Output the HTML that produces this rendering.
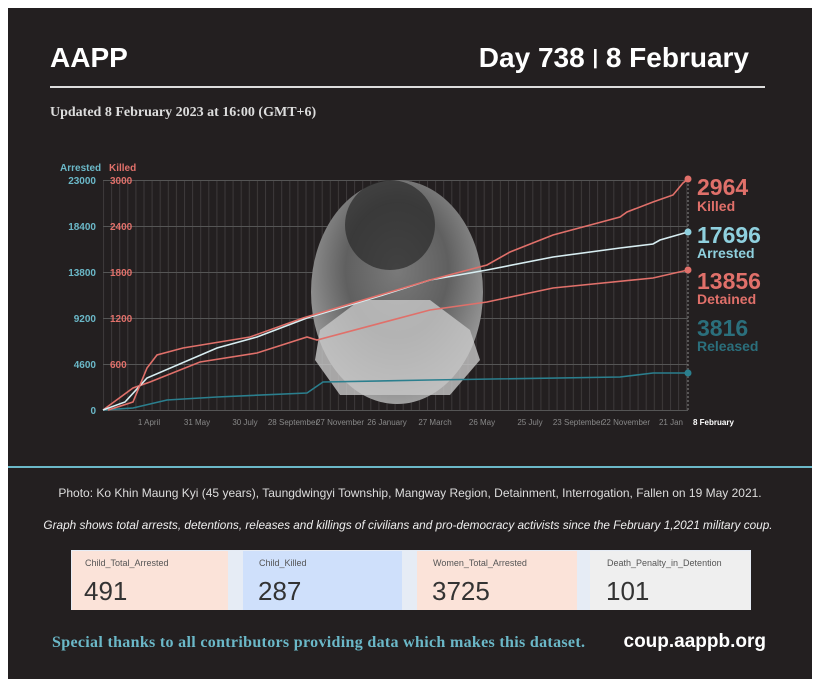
<!DOCTYPE html>
<html><head><meta charset="utf-8"><style>
body{margin:0;width:820px;height:687px;background:#fff;overflow:hidden;font-family:"Liberation Sans",sans-serif}
#p{position:absolute;left:8px;top:8px;width:804px;height:671px;background:#231f20}
.a{position:absolute;white-space:nowrap}
</style></head><body>
<div id="p"></div>
<div class="a" style="left:50px;top:42px;color:#fff;font-size:28px;font-weight:bold">AAPP</div>
<div class="a" style="right:71px;top:42px;color:#fff;font-size:28px;font-weight:bold">Day 738 <span style="font-size:20px;vertical-align:3px">|</span> 8 February</div>
<div class="a" style="left:50px;top:86px;width:715px;height:2px;background:#ddd"></div>
<div class="a" style="left:50px;top:105px;color:#ddd;font-family:'Liberation Serif',serif;font-size:14px;font-weight:bold">Updated 8 February 2023 at 16:00 (GMT+6)</div>
<svg class="a" style="left:0;top:0" width="820" height="687">
<defs>
<pattern id="vg" x="103" y="0" width="8.1" height="10" patternUnits="userSpaceOnUse"><line x1="0.5" y1="0" x2="0.5" y2="10" stroke="#3d393a" stroke-width="1"/></pattern>
<radialGradient id="ph" cx="0.5" cy="0.4" r="0.6"><stop offset="0" stop-color="#7a7a7a"/><stop offset="0.5" stop-color="#606060"/><stop offset="1" stop-color="#a0a0a0"/></radialGradient>
</defs>
<rect x="103" y="180" width="585" height="230" fill="url(#vg)"/>
<g stroke="#555" stroke-width="1">
<line x1="103" y1="180.5" x2="688" y2="180.5"/><line x1="103" y1="226.5" x2="688" y2="226.5"/><line x1="103" y1="272.5" x2="688" y2="272.5"/><line x1="103" y1="318.5" x2="688" y2="318.5"/><line x1="103" y1="364.5" x2="688" y2="364.5"/><line x1="103" y1="410.5" x2="688" y2="410.5"/>
<line x1="688" y1="180" x2="688" y2="410" stroke-dasharray="2,2" stroke="#888"/>
</g>
<ellipse cx="397" cy="292" rx="86" ry="112" fill="url(#ph)"/>
<ellipse cx="390" cy="225" rx="45" ry="45" fill="#2a2a2a" opacity="0.7"/>
<path d="M320,330 L360,300 L430,300 L470,330 L480,360 L450,395 L340,395 L315,360Z" fill="#c8c8c8" opacity="0.8"/>
<g fill="none" stroke-width="1.6">
<polyline stroke="#2b7f8e" points="103,410 133,408 167,400 217,397 307,393 323,382 430,380 620,377 653,373 688,373"/>
<polyline stroke="#e0706a" points="103,410 133,388 150,382 200,362 257,353 307,337 317,340 430,310 487,302 553,288 653,278 688,270"/>
<polyline stroke="#d8eef2" points="103,410 125,402 147,378 217,348 257,337 307,318 383,295 430,280 487,270 553,257 620,248 653,244 660,240 688,232"/>
<polyline stroke="#e0706a" points="108,410 133,402 147,368 157,355 183,348 250,337 303,318 430,280 487,265 510,252 553,235 620,217 627,212 653,202 673,195 683,183 688,179"/>
</g>
<circle cx="688" cy="179" r="3.5" fill="#e0706a"/><circle cx="688" cy="232" r="3.5" fill="#8fd0de"/><circle cx="688" cy="270" r="3.5" fill="#e0706a"/><circle cx="688" cy="373" r="3.5" fill="#2b7f8e"/>
<g font-size="10" font-weight="bold">
<text x="60" y="171" fill="#6bb8c8">Arrested</text><text x="109" y="171" fill="#e0706a">Killed</text>
<g fill="#6bb8c8" text-anchor="end"><text x="96" y="184">23000</text><text x="96" y="230">18400</text><text x="96" y="276">13800</text><text x="96" y="322">9200</text><text x="96" y="368">4600</text><text x="96" y="414">0</text></g>
<g fill="#e0706a"><text x="110" y="184">3000</text><text x="110" y="230">2400</text><text x="110" y="276">1800</text><text x="110" y="322">1200</text><text x="110" y="368">600</text></g>
</g>
<g font-size="8" fill="#888" text-anchor="middle"><text x="149" y="425">1 April</text><text x="197" y="425">31 May</text><text x="245" y="425">30 July</text><text x="293" y="425">28 September</text><text x="340" y="425">27 November</text><text x="387" y="425">26 January</text><text x="435" y="425">27 March</text><text x="482" y="425">26 May</text><text x="530" y="425">25 July</text><text x="578" y="425">23 September</text><text x="626" y="425">22 November</text><text x="671" y="425">21 Jan</text></g>
<text x="693" y="425" font-size="8" font-weight="bold" fill="#fff">8 February</text>
<g font-weight="bold">
<text x="697" y="195" font-size="23" fill="#e0706a">2964</text><text x="697" y="211" font-size="14" fill="#e0706a">Killed</text>
<text x="697" y="243" font-size="23" fill="#8fd0de">17696</text><text x="697" y="258" font-size="14" fill="#8fd0de">Arrested</text>
<text x="697" y="289" font-size="23" fill="#e0706a">13856</text><text x="697" y="304" font-size="14" fill="#e0706a">Detained</text>
<text x="697" y="336" font-size="23" fill="#2b6f7c">3816</text><text x="697" y="351" font-size="14" fill="#2b6f7c">Released</text>
</g>
<line x1="8" y1="467" x2="812" y2="467" stroke="#6bb8c8" stroke-width="2"/>
<text x="410" y="497" font-size="12" fill="#ddd" text-anchor="middle">Photo: Ko Khin Maung Kyi (45 years),  Taungdwingyi Township, Mangway Region, Detainment, Interrogation, Fallen on 19 May 2021.</text>
<text x="408" y="529" font-size="11.8" font-style="italic" fill="#eee" text-anchor="middle">Graph shows total arrests, detentions, releases and killings of civilians and pro-democracy activists since the February 1,2021 military coup.</text>
<rect x="71" y="550" width="680" height="60" fill="#e6ecf5"/>
<rect x="72" y="551" width="156" height="59" fill="#fbe3d9"/>
<rect x="243" y="551" width="159" height="59" fill="#cfe0fb"/>
<rect x="417" y="551" width="160" height="59" fill="#fbe3d9"/>
<rect x="590" y="551" width="160" height="59" fill="#efefef"/>
<g font-size="9" fill="#555"><text x="85" y="566">Child_Total_Arrested</text><text x="259" y="566">Child_Killed</text><text x="433" y="566">Women_Total_Arrested</text><text x="607" y="566">Death_Penalty_in_Detention</text></g>
<g font-size="26" fill="#333"><text x="84" y="600">491</text><text x="258" y="600">287</text><text x="432" y="600">3725</text><text x="606" y="600">101</text></g>
<text x="52" y="647" font-family="Liberation Serif,serif" font-weight="bold" font-size="16" fill="#6bb8c8" textLength="533">Special thanks to all contributors providing data which makes this dataset.</text>
<text x="766" y="647" font-weight="bold" font-size="19" fill="#fff" text-anchor="end">coup.aappb.org</text>
</svg>
</body></html>
